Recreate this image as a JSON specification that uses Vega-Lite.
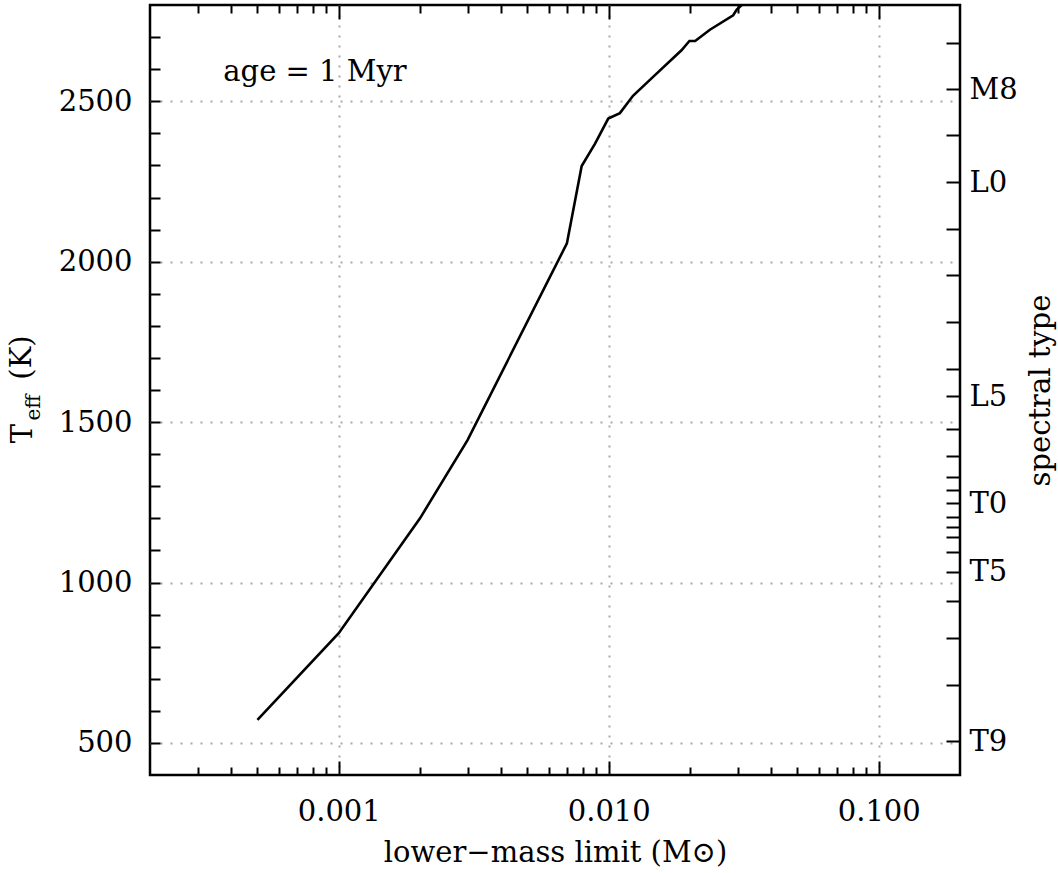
{
  "$schema": "https://vega.github.io/schema/vega-lite/v6.json",
  "width": 810,
  "height": 770,
  "autosize": {"type": "none"},
  "padding": {"left": 150, "top": 5, "right": 98, "bottom": 98},
  "background": "white",
  "config": {
    "view": {"stroke": "black", "strokeWidth": 2.5},
    "axis": {
      "labelFont": "DejaVu Serif",
      "titleFont": "DejaVu Serif",
      "labelFontSize": 29,
      "titleFontSize": 29,
      "labelColor": "black",
      "titleColor": "black",
      "titleFontWeight": "normal",
      "tickColor": "black",
      "tickWidth": 2,
      "domain": false,
      "grid": false,
      "labelOverlap": false,
      "labelFlush": false
    }
  },
  "datasets": {
    "track": [
      {"m": 0.0005, "T": 572},
      {"m": 0.001, "T": 842},
      {"m": 0.002, "T": 1200},
      {"m": 0.003, "T": 1444},
      {"m": 0.007, "T": 2057},
      {"m": 0.00794, "T": 2298},
      {"m": 0.0089, "T": 2368},
      {"m": 0.00996, "T": 2446},
      {"m": 0.011, "T": 2463},
      {"m": 0.0123, "T": 2517},
      {"m": 0.0146, "T": 2576},
      {"m": 0.0186, "T": 2659},
      {"m": 0.0199, "T": 2688},
      {"m": 0.0209, "T": 2688},
      {"m": 0.0237, "T": 2723},
      {"m": 0.0289, "T": 2768},
      {"m": 0.0298, "T": 2786},
      {"m": 0.0311, "T": 2800}
    ],
    "label": [
      {"m": 0.000817, "T": 2590, "text": "age = 1 Myr"}
    ]
  },
  "layer": [
    {
      "data": {"name": "track"},
      "mark": {"type": "line", "color": "black", "strokeWidth": 2.6, "clip": true},
      "encoding": {
        "x": {
          "field": "m",
          "type": "quantitative",
          "scale": {"type": "log", "domain": [0.0002, 0.2], "nice": false},
          "axis": {
            "orient": "bottom",
            "values": [0.0003, 0.0004, 0.0005, 0.0006, 0.0007, 0.0008, 0.0009, 0.001, 0.002, 0.003, 0.004, 0.005, 0.006, 0.007, 0.008, 0.009, 0.01, 0.02, 0.03, 0.04, 0.05, 0.06, 0.07, 0.08, 0.09, 0.1],
            "tickSize": {"condition": {"test": "indexof([0.001, 0.01, 0.1], datum.value) >= 0", "value": -14}, "value": -8},
            "labelExpr": "indexof([0.001, 0.01, 0.1], datum.value) >= 0 ? format(datum.value, '.3f') : ''",
            "labelPadding": 36,
            "grid": true,
            "gridDash": [2, 8],
            "gridColor": "#a8a8a8",
            "gridWidth": 2,
            "gridOpacity": {"condition": {"test": "indexof([0.001, 0.01, 0.1], datum.value) >= 0", "value": 1}, "value": 0},
            "title": "lower−mass limit (M⊙)",
            "titleY": 77,
            "titleBaseline": "middle"
          }
        },
        "y": {
          "field": "T",
          "type": "quantitative",
          "scale": {"domain": [400, 2800], "zero": false, "nice": false},
          "axis": {
            "orient": "left",
            "values": [500, 600, 700, 800, 900, 1000, 1100, 1200, 1300, 1400, 1500, 1600, 1700, 1800, 1900, 2000, 2100, 2200, 2300, 2400, 2500, 2600, 2700],
            "format": "d",
            "tickSize": -10,
            "labelExpr": "datum.value % 500 == 0 ? datum.label : ''",
            "labelPadding": 28,
            "grid": true,
            "gridDash": [2, 8],
            "gridColor": "#a8a8a8",
            "gridWidth": 2,
            "gridOpacity": {"condition": {"test": "datum.value % 500 == 0", "value": 1}, "value": 0},
            "title": "T",
            "titleX": -128,
            "titleY": 428,
            "titleAngle": 270,
            "titleAlign": "center",
            "titleBaseline": "middle"
          }
        }
      }
    },
    {
      "data": {"name": "label"},
      "mark": {"type": "text", "align": "center", "baseline": "middle", "font": "DejaVu Serif", "fontSize": 29, "color": "black"},
      "encoding": {
        "x": {
          "field": "m",
          "type": "quantitative",
          "axis": {
            "orient": "top",
            "values": [0.0003, 0.0004, 0.0005, 0.0006, 0.0007, 0.0008, 0.0009, 0.001, 0.002, 0.003, 0.004, 0.005, 0.006, 0.007, 0.008, 0.009, 0.01, 0.02, 0.03, 0.04, 0.05, 0.06, 0.07, 0.08, 0.09, 0.1],
            "tickSize": {"condition": {"test": "indexof([0.001, 0.01, 0.1], datum.value) >= 0", "value": -14}, "value": -8},
            "labels": false,
            "title": null
          }
        },
        "y": {
          "field": "T",
          "type": "quantitative",
          "axis": {
            "orient": "right",
            "values": [2683, 2537, 2394, 2247, 2101, 1957, 1812, 1667, 1581, 1480, 1394, 1330, 1288, 1247, 1205, 1174, 1143, 1096, 1034, 942, 826, 679, 505],
            "tickSize": -14,
            "labelExpr": "datum.value == 2537 ? 'M8' : datum.value == 2247 ? 'L0' : datum.value == 1581 ? 'L5' : datum.value == 1247 ? 'T0' : datum.value == 1034 ? 'T5' : datum.value == 505 ? 'T9' : ''",
            "labelPadding": 23,
            "title": "spectral type",
            "titleAngle": 270,
            "titleX": 80,
            "titleY": 385,
            "titleAlign": "center",
            "titleBaseline": "middle"
          }
        },
        "text": {"field": "text"}
      }
    },
    {
      "data": {"name": "track"},
      "mark": {"type": "point", "opacity": 0},
      "encoding": {
        "x": {"field": "m", "type": "quantitative", "axis": null},
        "y": {
          "field": "T",
          "type": "quantitative",
          "axis": {
            "orient": "left",
            "ticks": false,
            "labels": false,
            "grid": false,
            "title": "eff",
            "titleFontSize": 20,
            "titleX": -117,
            "titleY": 402,
            "titleAngle": 270,
            "titleAlign": "center",
            "titleBaseline": "middle"
          }
        }
      }
    },
    {
      "data": {"name": "track"},
      "mark": {"type": "point", "opacity": 0},
      "encoding": {
        "x": {"field": "m", "type": "quantitative", "axis": null},
        "y": {
          "field": "T",
          "type": "quantitative",
          "axis": {
            "orient": "left",
            "ticks": false,
            "labels": false,
            "grid": false,
            "title": "(K)",
            "titleX": -129,
            "titleY": 352,
            "titleAngle": 270,
            "titleAlign": "center",
            "titleBaseline": "middle"
          }
        }
      }
    }
  ],
  "resolve": {"axis": {"x": "independent", "y": "independent"}}
}
